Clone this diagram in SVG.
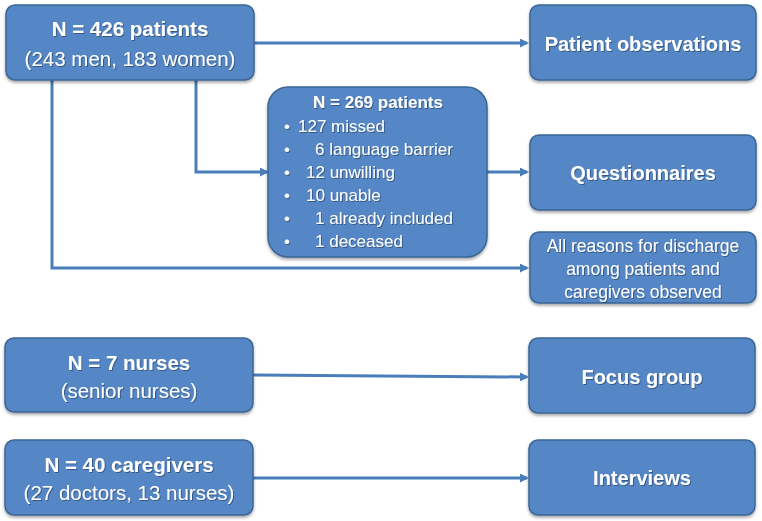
<svg xmlns="http://www.w3.org/2000/svg" width="762" height="521" viewBox="0 0 762 521">
<style>
.box{fill:#5586c6;stroke:#3b6596;stroke-width:1.5;filter:url(#sh)}
.t{font-family:"Liberation Sans",Arial,sans-serif;fill:#fff;text-anchor:middle;filter:url(#ts)}
.b{font-weight:bold}
.l{font-family:"Liberation Sans",Arial,sans-serif;fill:#fff;font-size:17px;filter:url(#ts)}
.c{fill:none;stroke:#4a7ebb;stroke-width:3;marker-end:url(#ah)}
.n{fill:none;stroke:#4a7ebb;stroke-width:3}
</style>
<defs>
<filter id="sh" x="-10%" y="-10%" width="120%" height="130%">
<feDropShadow dx="0" dy="2" stdDeviation="1.5" flood-color="#000" flood-opacity="0.35"/>
</filter>
<filter id="ts" x="-5%" y="-20%" width="110%" height="150%">
<feDropShadow dx="1" dy="1" stdDeviation="0.6" flood-color="#000" flood-opacity="0.35"/>
</filter>
<marker id="ah" markerWidth="9" markerHeight="9" refX="7" refY="4.5" orient="auto" markerUnits="userSpaceOnUse">
<path d="M0,0 L9,4.5 L0,9 Z" fill="#4a7ebb"/>
</marker>
</defs>
<rect width="762" height="521" fill="#fff"/>
<g id="connectors">
<path class="c" d="M254,43 H527"/>
<path class="n" d="M52,80 V268 H300"/>
<path class="c" d="M300,268 H527"/>
<path class="c" d="M196,80 V172 H267"/>
<path class="c" d="M487,172 H527"/>
<path class="c" d="M253,375 L527,377"/>
<path class="c" d="M253,478 H527"/>
</g>
<g id="n426">
<rect class="box" x="6" y="5" width="248" height="75" rx="9"/>
<text class="t b" x="130" y="36" font-size="20.5">N = 426 patients</text>
<text class="t" x="130" y="66" font-size="20.5">(243 men, 183 women)</text>
</g>
<g id="obs">
<rect class="box" x="530" y="5" width="226" height="75" rx="9"/>
<text class="t b" x="643" y="51" font-size="20">Patient observations</text>
</g>
<g id="n269">
<rect class="box" x="268" y="87" width="219" height="170" rx="20"/>
<text class="t b" x="378" y="108" font-size="17">N = 269 patients</text>
<text class="l"><tspan x="284" y="132">•</tspan><tspan x="298" y="132">127 missed</tspan>
<tspan x="284" y="155">•</tspan><tspan x="315" y="155">6 language barrier</tspan>
<tspan x="284" y="178">•</tspan><tspan x="306" y="178">12 unwilling</tspan>
<tspan x="284" y="201">•</tspan><tspan x="306" y="201">10 unable</tspan>
<tspan x="284" y="224">•</tspan><tspan x="315" y="224">1 already included</tspan>
<tspan x="284" y="247">•</tspan><tspan x="315" y="247">1 deceased</tspan></text>
</g>
<g id="quest">
<rect class="box" x="530" y="135" width="226" height="75" rx="9"/>
<text class="t b" x="643" y="180" font-size="20">Questionnaires</text>
</g>
<g id="reasons">
<rect class="box" x="530" y="232" width="226" height="71" rx="9"/>
<text class="t" x="643" y="252" font-size="17.5">All reasons for discharge</text>
<text class="t" x="643" y="275" font-size="17.5">among patients and</text>
<text class="t" x="643" y="298" font-size="17.5">caregivers observed</text>
</g>
<g id="nurses">
<rect class="box" x="5" y="338" width="248" height="74" rx="9"/>
<text class="t b" x="129" y="370" font-size="20.5">N = 7 nurses</text>
<text class="t" x="129" y="398" font-size="20.5">(senior nurses)</text>
</g>
<g id="focus">
<rect class="box" x="529" y="338" width="226" height="75" rx="9"/>
<text class="t b" x="642" y="384" font-size="20">Focus group</text>
</g>
<g id="caregivers">
<rect class="box" x="5" y="440" width="248" height="75" rx="9"/>
<text class="t b" x="129" y="472" font-size="20.5">N = 40 caregivers</text>
<text class="t" x="129" y="500" font-size="20.5">(27 doctors, 13 nurses)</text>
</g>
<g id="interviews">
<rect class="box" x="529" y="440" width="226" height="75" rx="9"/>
<text class="t b" x="642" y="485" font-size="20">Interviews</text>
</g>
</svg>
